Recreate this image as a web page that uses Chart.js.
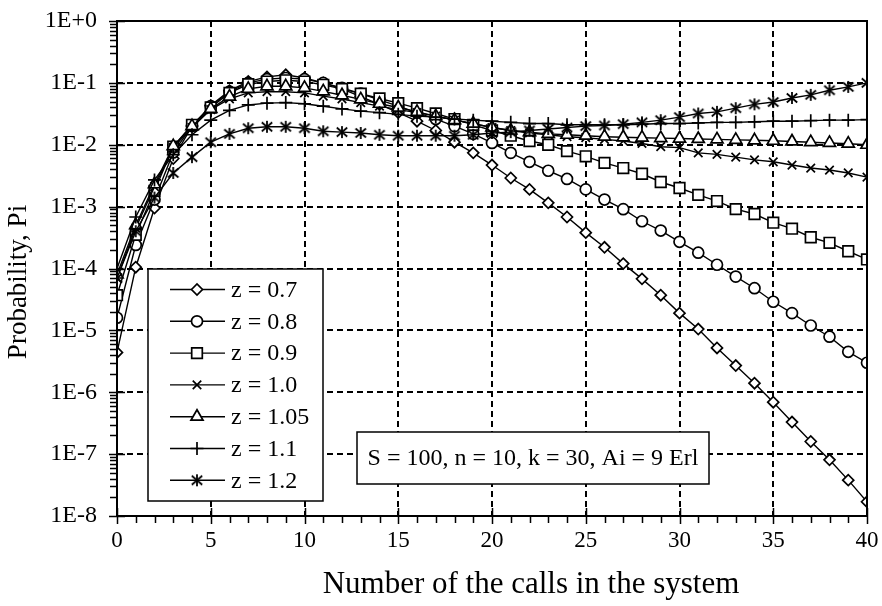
<!DOCTYPE html>
<html>
<head>
<meta charset="utf-8">
<title>Probability Pi vs number of calls</title>
<script src="https://cdn.jsdelivr.net/npm/chart.js@4.4.1/dist/chart.umd.min.js"></script>
<style>
  html, body { margin: 0; padding: 0; background: #ffffff; }
  #wrap { width: 882px; height: 606px; }
</style>
</head>
<body>
<div id="wrap"><canvas id="chart" width="882" height="606"></canvas></div>
<script>
// number of calls in the system (x)
const calls = [0, 1, 2, 3, 4, 5, 6, 7, 8, 9, 10, 11, 12, 13, 14, 15, 16, 17, 18, 19, 20,
  21, 22, 23, 24, 25, 26, 27, 28, 29, 30, 31, 32, 33, 34, 35, 36, 37, 38, 39, 40];

// probabilities Pi, one list per peakedness z
const pZ07 = [4.4e-6, 1.05e-4, 9.5e-4, 6e-3, 2e-2, 4.3e-2, 7.5e-2, 0.105, 0.125, 0.135, 0.12,
  0.1, 0.08, 0.06, 0.045, 0.033, 0.024, 0.017, 0.011, 7.4e-3, 4.7e-3,
  2.9e-3, 1.9e-3, 1.15e-3, 6.8e-4, 3.8e-4, 2.2e-4, 1.2e-4, 6.8e-5, 3.7e-5, 1.9e-5,
  1.05e-5, 5.2e-6, 2.7e-6, 1.4e-6, 6.9e-7, 3.3e-7, 1.6e-7, 8.1e-8, 3.8e-8, 1.7e-8];
const pZ08 = [1.6e-5, 2.4e-4, 1.3e-3, 7.5e-3, 2e-2, 4.2e-2, 7.2e-2, 0.1, 0.115, 0.12, 0.115,
  0.1, 0.083, 0.067, 0.053, 0.042, 0.033, 0.026, 0.02, 0.015, 1.07e-2,
  7.4e-3, 5.3e-3, 3.8e-3, 2.8e-3, 1.9e-3, 1.3e-3, 9.1e-4, 5.8e-4, 4.1e-4, 2.7e-4,
  1.8e-4, 1.15e-4, 7.4e-5, 4.8e-5, 2.9e-5, 1.9e-5, 1.2e-5, 7.9e-6, 4.5e-6, 3.0e-6];
const pZ09 = [3.7e-5, 3.5e-4, 1.8e-3, 9.3e-3, 2.1e-2, 4e-2, 6.9e-2, 0.095, 0.105, 0.11, 0.105,
  0.093, 0.08, 0.067, 0.056, 0.047, 0.039, 0.032, 0.026, 0.021, 0.017,
  1.4e-2, 1.15e-2, 1.0e-2, 7.9e-3, 6.5e-3, 5.1e-3, 4.2e-3, 3.4e-3, 2.5e-3, 2.0e-3,
  1.55e-3, 1.23e-3, 9.1e-4, 7.6e-4, 5.5e-4, 4.4e-4, 3.2e-4, 2.6e-4, 1.9e-4, 1.4e-4];
const pZ10 = [7e-5, 4.5e-4, 2.1e-3, 9e-3, 1.9e-2, 3.7e-2, 5.5e-2, 0.069, 0.072, 0.072, 0.069,
  0.061, 0.055, 0.048, 0.042, 0.037, 0.033, 0.029, 0.025, 0.022, 0.019,
  0.017, 0.0155, 0.0145, 0.0135, 0.013, 0.0122, 0.0115, 0.0105, 9.3e-3, 9e-3,
  7.4e-3, 7e-3, 6.3e-3, 5.7e-3, 5.3e-3, 4.7e-3, 4.2e-3, 3.9e-3, 3.5e-3, 3.0e-3];
const pZ105 = [8e-5, 5e-4, 2.3e-3, 9.5e-3, 2e-2, 3.8e-2, 6e-2, 0.08, 0.088, 0.088, 0.083,
  0.073, 0.063, 0.054, 0.046, 0.04, 0.034, 0.029, 0.025, 0.022, 0.019,
  0.017, 0.016, 0.015, 0.0145, 0.014, 0.0135, 0.0132, 0.013, 0.0128, 0.0126,
  0.0124, 0.0122, 0.012, 0.0118, 0.0116, 0.0113, 0.011, 0.0107, 0.0104, 0.01];
const pZ11 = [1e-4, 6.8e-4, 2.7e-3, 6.9e-3, 1.45e-2, 2.5e-2, 3.6e-2, 4.4e-2, 4.7e-2, 4.8e-2, 4.6e-2,
  4.2e-2, 3.8e-2, 3.5e-2, 3.3e-2, 3.1e-2, 2.9e-2, 2.8e-2, 2.6e-2, 2.5e-2, 2.4e-2,
  2.3e-2, 2.2e-2, 2.2e-2, 2.1e-2, 2.1e-2, 2.1e-2, 2.1e-2, 2.15e-2, 2.2e-2, 2.2e-2,
  2.25e-2, 2.3e-2, 2.3e-2, 2.35e-2, 2.4e-2, 2.4e-2, 2.45e-2, 2.5e-2, 2.5e-2, 2.55e-2];
const pZ12 = [7e-5, 4e-4, 1.4e-3, 3.5e-3, 6.3e-3, 1.1e-2, 1.5e-2, 1.85e-2, 1.95e-2, 1.95e-2, 1.85e-2,
  1.65e-2, 1.6e-2, 1.55e-2, 1.45e-2, 1.4e-2, 1.4e-2, 1.4e-2, 1.4e-2, 1.45e-2, 1.55e-2,
  1.6e-2, 1.7e-2, 1.8e-2, 1.9e-2, 2.0e-2, 2.05e-2, 2.15e-2, 2.3e-2, 2.5e-2, 2.8e-2,
  3.2e-2, 3.4e-2, 3.9e-2, 4.5e-2, 4.9e-2, 5.7e-2, 6.4e-2, 7.6e-2, 8.6e-2, 0.1];

const seriesLabels = ["z = 0.7", "z = 0.8", "z = 0.9", "z = 1.0", "z = 1.05", "z = 1.1", "z = 1.2"];
const seriesValues = [pZ07, pZ08, pZ09, pZ10, pZ105, pZ11, pZ12];

// axis ticks
const xTicks = [0, 5, 10, 15, 20, 25, 30, 35, 40];
const yTicks = [1e-8, 1e-7, 1e-6, 1e-5, 1e-4, 1e-3, 1e-2, 1e-1, 1];

const annotationText = "S = 100, n = 10, k = 30, Ai = 9 Erl";
const xTitle = "Number of the calls in the system";
const yTitle = "Probability, Pi";

const SERIF = "'Liberation Serif', 'Times New Roman', serif";

// asterisk marker (vertical bar plus an x), Chart.js has no 6-armed star
function makeAsterisk(size) {
  const c = document.createElement("canvas");
  c.width = size; c.height = size;
  const g = c.getContext("2d");
  const m = size / 2, r = size / 2 - 1;
  g.strokeStyle = "#000";
  g.lineWidth = 1.8;
  g.beginPath();
  g.moveTo(m, m - r); g.lineTo(m, m + r);
  g.moveTo(m - r * 0.87, m - r * 0.75); g.lineTo(m + r * 0.87, m + r * 0.75);
  g.moveTo(m - r * 0.87, m + r * 0.75); g.lineTo(m + r * 0.87, m - r * 0.75);
  g.stroke();
  return c;
}
const asterisk = makeAsterisk(14);

const markerStyles = [
  { pointStyle: "rectRot", radius: 5.5 },
  { pointStyle: "circle", radius: 5.5 },
  { pointStyle: "rect", radius: 7.5 },
  { pointStyle: "crossRot", radius: 6 },
  { pointStyle: "triangle", radius: 7 },
  { pointStyle: "cross", radius: 6.5 },
  { pointStyle: asterisk, radius: 7 }
];

const datasets = seriesValues.map(function (vals, i) {
  return {
    label: seriesLabels[i],
    data: calls.map(function (x, j) { return { x: x, y: vals[j] }; }),
    borderColor: "#000",
    borderWidth: 1.4,
    backgroundColor: "#fff",
    pointStyle: markerStyles[i].pointStyle,
    pointRadius: markerStyles[i].radius,
    pointBorderWidth: 1.7,
    pointBorderColor: "#000",
    pointBackgroundColor: "#fff",
    tension: 0,
    order: 6 - i
  };
});

// legend box, annotation box, frame, minor ticks and axis titles
const decorPlugin = {
  id: "decor",
  afterDatasetsDraw: function (chart) {
    const ctx = chart.ctx;
    const a = chart.chartArea;
    const xs = chart.scales.x, ys = chart.scales.y;
    ctx.save();
    ctx.strokeStyle = "#000";
    ctx.lineWidth = 2;
    ctx.setLineDash([]);
    ctx.strokeRect(a.left, a.top, a.right - a.left, a.bottom - a.top);

    // x ticks
    ctx.lineWidth = 1.5;
    ctx.beginPath();
    for (let v = 0; v <= 40; v++) {
      const px = Math.round(xs.getPixelForValue(v)) + 0.5;
      if (v % 5 === 0) { ctx.moveTo(px, a.bottom - 8); ctx.lineTo(px, a.bottom + 8); }
      else { ctx.moveTo(px, a.bottom); ctx.lineTo(px, a.bottom + 7); }
    }
    // y ticks, log minor ticks
    for (let e = -8; e <= 0; e++) {
      for (let m = 1; m <= 9; m++) {
        const v = m * Math.pow(10, e);
        if (v > 1.0000001) break;
        const py = Math.round(ys.getPixelForValue(v)) + 0.5;
        if (m === 1) { ctx.moveTo(a.left - 8, py); ctx.lineTo(a.left + 8, py); }
        else { ctx.moveTo(a.left - 7, py); ctx.lineTo(a.left, py); }
      }
    }
    ctx.stroke();

    // legend
    const lx = 148, ly = 269, lw = 175, lh = 232;
    ctx.fillStyle = "#fff";
    ctx.fillRect(lx, ly, lw, lh);
    ctx.lineWidth = 1.5;
    ctx.strokeRect(lx, ly, lw, lh);
    ctx.font = "24px " + SERIF;
    ctx.textBaseline = "middle";
    ctx.textAlign = "left";
    seriesLabels.forEach(function (lab, i) {
      const yy = 289.5 + i * 31.8;
      ctx.strokeStyle = "#000";
      ctx.lineWidth = 1.4;
      ctx.beginPath();
      ctx.moveTo(170, yy); ctx.lineTo(225, yy);
      ctx.stroke();
      ctx.fillStyle = "#fff";
      ctx.lineWidth = 1.7;
      Chart.helpers.drawPoint(ctx, {
        pointStyle: markerStyles[i].pointStyle,
        radius: markerStyles[i].radius,
        rotation: 0,
        borderWidth: 1.7
      }, 197, yy);
      ctx.fillStyle = "#000";
      ctx.fillText(lab, 231, yy + 1);
    });

    // parameter box
    ctx.font = "24px " + SERIF;
    const bx = 357, by = 432, bw = 352, bh = 52;
    ctx.fillStyle = "#fff";
    ctx.fillRect(bx, by, bw, bh);
    ctx.lineWidth = 1.5;
    ctx.strokeStyle = "#000";
    ctx.strokeRect(bx, by, bw, bh);
    ctx.fillStyle = "#000";
    ctx.textAlign = "center";
    ctx.fillText(annotationText, bx + bw / 2, by + bh / 2 + 1);

    // axis titles
    ctx.font = "31px " + SERIF;
    ctx.fillText(xTitle, 531, 585);
    ctx.save();
    ctx.translate(19, 282);
    ctx.rotate(-Math.PI / 2);
    ctx.font = "27px " + SERIF;
    ctx.fillText(yTitle, 0, 0);
    ctx.restore();
    ctx.restore();
  }
};

new Chart(document.getElementById("chart"), {
  type: "line",
  data: { datasets: datasets },
  plugins: [decorPlugin],
  options: {
    responsive: false,
    animation: false,
    devicePixelRatio: 1,
    layout: { padding: { top: 21, right: 15, left: 0, bottom: 0 } },
    plugins: { legend: { display: false }, tooltip: { enabled: false } },
    scales: {
      x: {
        type: "linear",
        min: 0, max: 40,
        afterBuildTicks: function (s) { s.ticks = xTicks.map(function (v) { return { value: v }; }); },
        afterFit: function (s) { s.height = 90; s.paddingLeft = 0; s.paddingRight = 0; },
        ticks: { font: { family: SERIF, size: 23 }, color: "#000", padding: 11, maxRotation: 0 },
        grid: {
          drawTicks: false,
          lineWidth: 2,
          color: function (c) { return (c.tick && (c.tick.value === 0 || c.tick.value === 40)) ? "rgba(0,0,0,0)" : "#000"; }
        },
        border: { display: false, dash: [6, 4] }
      },
      y: {
        type: "logarithmic",
        min: 1e-8, max: 1,
        afterBuildTicks: function (s) { s.ticks = yTicks.map(function (v) { return { value: v }; }); },
        afterFit: function (s) { s.width = 117; s.paddingTop = 0; s.paddingBottom = 0; },
        ticks: {
          font: { family: SERIF, size: 24 }, color: "#000", padding: 20,
          callback: function (v) {
            const e = Math.round(Math.log10(v));
            return e >= 0 ? "1E+" + e : "1E" + e;
          }
        },
        grid: {
          drawTicks: false,
          lineWidth: 2,
          color: function (c) { return (c.tick && (c.tick.value >= 0.999 || c.tick.value <= 1.0001e-8)) ? "rgba(0,0,0,0)" : "#000"; }
        },
        border: { display: false, dash: [6, 4] }
      }
    }
  }
});
</script>
</body>
</html>
